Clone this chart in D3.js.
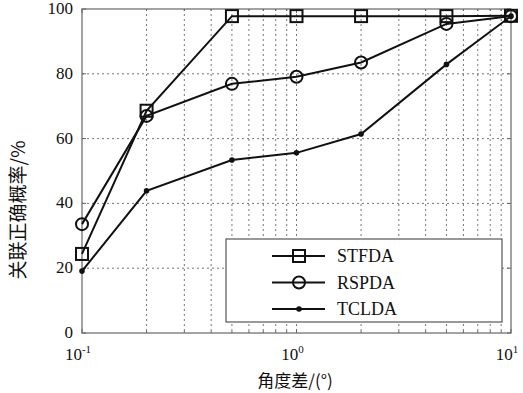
<!DOCTYPE html>
<html lang="zh">
<head>
    <meta charset="UTF-8">
    <title>关联正确概率</title>
    <script src="https://d3js.org/d3.v7.min.js"></script>
    <style>
        body { margin: 0; background: #fff; }
        .tick-label { font-family: "Liberation Serif", "DejaVu Serif", serif; font-size: 17px; fill: #111; }
        .legend-text { font-family: "Liberation Serif", "DejaVu Serif", serif; font-size: 18px; fill: #111; }
        .axis-title { font-family: "Noto Sans CJK SC", sans-serif; fill: #111; }
    </style>
</head>
<body>
<div id="chart"></div>
<script>
    // data
    const angles = [0.1, 0.2, 0.5, 1, 2, 5, 10];
    const stfda = [24.4, 68.6, 97.8, 97.8, 97.8, 97.8, 97.9];
    const rspda = [33.6, 67.0, 76.9, 79.1, 83.5, 95.4, 97.8];
    const tclda = [19.1, 43.9, 53.4, 55.6, 61.4, 82.9, 97.8];
    const yTicks = [0, 20, 40, 60, 80, 100];
    const xTicks = [0.1, 1, 10];
    const xTickExp = ["-1", "0", "1"];

    const series = [
        { name: "STFDA", values: stfda, marker: "square" },
        { name: "RSPDA", values: rspda, marker: "circle" },
        { name: "TCLDA", values: tclda, marker: "dot" }
    ];

    const W = 523, H = 393;
    const pl = 82, pr = 511, pt = 9, pb = 333;

    const svg = d3.select("#chart").append("svg")
        .attr("width", W).attr("height", H);

    const x = d3.scaleLog().domain([0.1, 10]).range([pl, pr]);
    const y = d3.scaleLinear().domain([0, 100]).range([pb, pt]);

    // grid: minor log ticks + y ticks
    const gridX = [];
    [0.1, 1].forEach(d => { for (let k = 1; k <= 9; k++) gridX.push(d * k); });
    gridX.push(10);

    svg.append("g").selectAll("line")
        .data(gridX.filter(d => d > 0.1 && d < 10))
        .enter().append("line")
        .attr("x1", d => x(d)).attr("x2", d => x(d))
        .attr("y1", pt).attr("y2", pb)
        .attr("stroke", "#666").attr("stroke-width", 0.9)
        .attr("stroke-dasharray", "2,3");

    svg.append("g").selectAll("line")
        .data(yTicks.filter(d => d > 0 && d < 100))
        .enter().append("line")
        .attr("x1", pl).attr("x2", pr)
        .attr("y1", d => y(d)).attr("y2", d => y(d))
        .attr("stroke", "#666").attr("stroke-width", 0.9)
        .attr("stroke-dasharray", "2,3");

    // frame
    svg.append("rect")
        .attr("x", pl).attr("y", pt)
        .attr("width", pr - pl).attr("height", pb - pt)
        .attr("fill", "none").attr("stroke", "#666").attr("stroke-width", 1.2);

    // axis tick marks (inside)
    const ticksG = svg.append("g").attr("stroke", "#666");
    yTicks.forEach(d => {
        ticksG.append("line").attr("x1", pl).attr("x2", pl + 4).attr("y1", y(d)).attr("y2", y(d));
        ticksG.append("line").attr("x1", pr).attr("x2", pr - 4).attr("y1", y(d)).attr("y2", y(d));
    });
    gridX.forEach(d => {
        const len = xTicks.includes(d) ? 4 : 2;
        ticksG.append("line").attr("x1", x(d)).attr("x2", x(d)).attr("y1", pb).attr("y2", pb - len);
        ticksG.append("line").attr("x1", x(d)).attr("x2", x(d)).attr("y1", pt).attr("y2", pt + len);
    });

    // y tick labels
    svg.append("g").selectAll("text")
        .data(yTicks).enter().append("text")
        .attr("class", "tick-label")
        .attr("x", pl - 9).attr("y", d => y(d) + 5)
        .attr("text-anchor", "end")
        .text(d => d);

    // x tick labels 10^n
    const xl = svg.append("g").selectAll("text")
        .data(xTicks).enter().append("text")
        .attr("class", "tick-label")
        .attr("x", d => x(d) - 4).attr("y", 360)
        .attr("text-anchor", "middle");
    xl.append("tspan").text("10");
    xl.append("tspan").attr("dy", -7).attr("font-size", 11).text((d, i) => xTickExp[i]);

    // axis titles
    svg.append("text").attr("class", "axis-title")
        .attr("font-size", 17)
        .attr("x", 295).attr("y", 387).attr("text-anchor", "middle")
        .text("角度差/(°)");
    svg.append("text").attr("class", "axis-title")
        .attr("font-size", 19)
        .attr("transform", `translate(18,210) rotate(-90)`)
        .attr("text-anchor", "middle").attr("dy", "0.35em")
        .text("关联正确概率/%");

    // lines + markers
    const line = d3.line().x((d, i) => x(angles[i])).y(d => y(d));

    function drawMarker(g, type, cx, cy) {
        if (type === "square") {
            g.append("rect").attr("x", cx - 6).attr("y", cy - 6).attr("width", 12).attr("height", 12)
                .attr("fill", "none").attr("stroke", "#111").attr("stroke-width", 2);
        } else if (type === "circle") {
            g.append("circle").attr("cx", cx).attr("cy", cy).attr("r", 6)
                .attr("fill", "none").attr("stroke", "#111").attr("stroke-width", 2);
        } else {
            g.append("circle").attr("cx", cx).attr("cy", cy).attr("r", 2.8).attr("fill", "#111");
        }
    }

    series.forEach(s => {
        svg.append("path").datum(s.values)
            .attr("d", line)
            .attr("fill", "none").attr("stroke", "#111").attr("stroke-width", 2);
        const g = svg.append("g");
        s.values.forEach((v, i) => drawMarker(g, s.marker, x(angles[i]), y(v)));
    });

    // legend
    const lg = svg.append("g");
    lg.append("rect").attr("x", 226).attr("y", 239).attr("width", 276).attr("height", 83)
        .attr("fill", "#fff").attr("stroke", "#555").attr("stroke-width", 1.2);
    series.forEach((s, i) => {
        const ly = 256 + i * 26.5;
        lg.append("line").attr("x1", 272).attr("x2", 325).attr("y1", ly).attr("y2", ly)
            .attr("stroke", "#111").attr("stroke-width", 2);
        drawMarker(lg, s.marker, 299, ly);
        lg.append("text").attr("class", "legend-text")
            .attr("x", 337).attr("y", ly + 6).text(s.name);
    });
</script>
</body>
</html>
